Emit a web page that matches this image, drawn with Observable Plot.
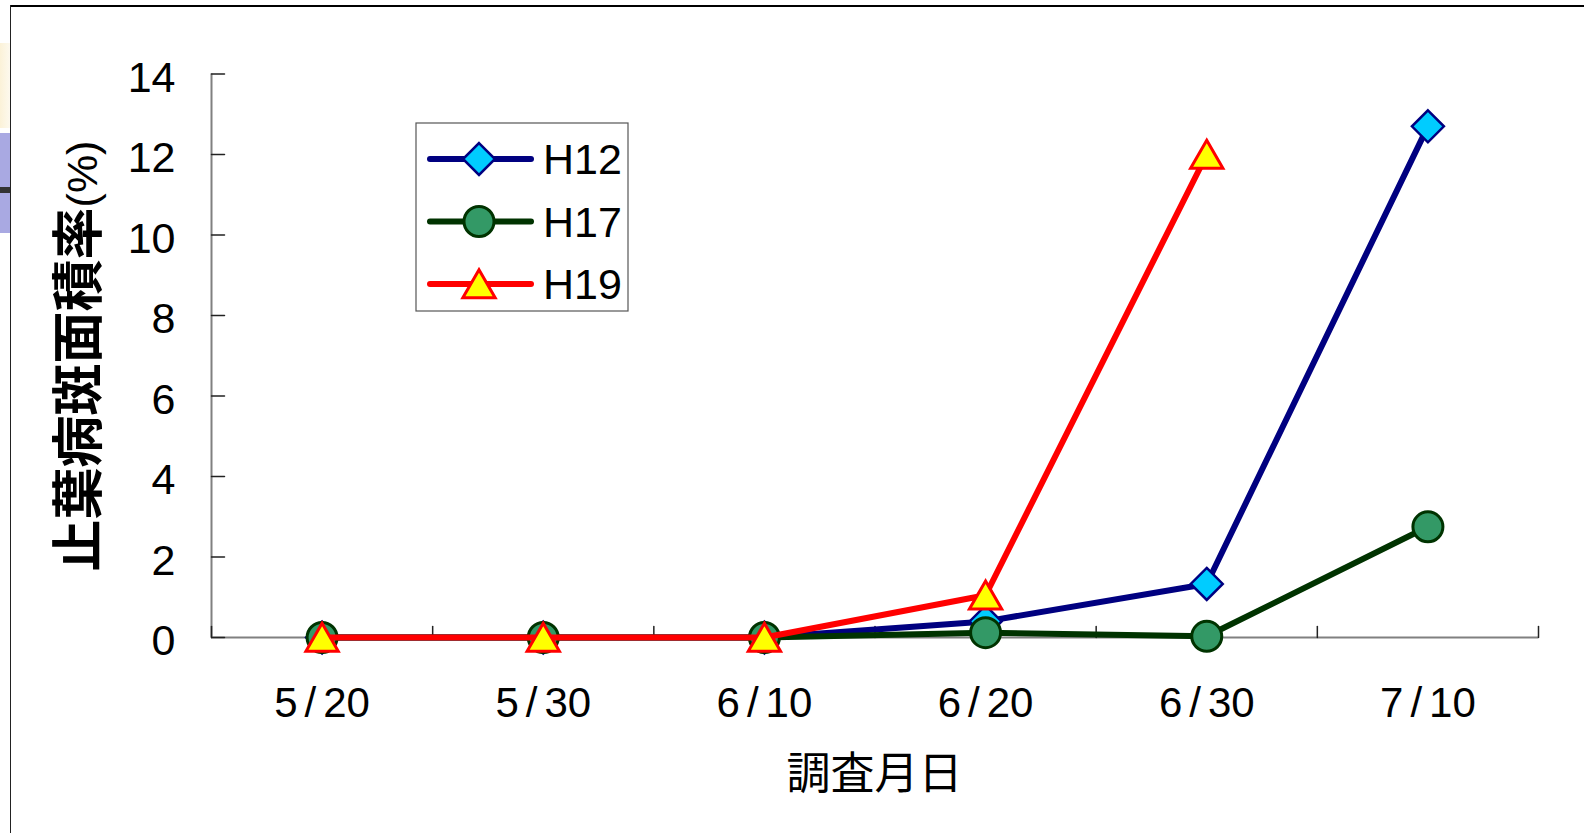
<!DOCTYPE html>
<html>
<head>
<meta charset="utf-8">
<script src="https://cdn.jsdelivr.net/npm/d3@7"></script>
<script src="https://cdn.jsdelivr.net/npm/@observablehq/plot@0.6"></script>
<style>
  html, body { margin: 0; padding: 0; background: #fff; }
  #page { position: relative; width: 1584px; height: 833px; overflow: hidden; background: #fff; }
  #page > svg { position: absolute; left: 0; top: 0; }
  .edge-top { position: absolute; left: 10px; top: 5px; width: 1574px; height: 2px; background: #000; z-index: 2; }
  .edge-left { position: absolute; left: 10px; top: 5px; width: 1px; height: 828px; background: #222; z-index: 2; }
  .strip-cream { position: absolute; left: 0; top: 43px; width: 10px; height: 85px; background: linear-gradient(to right, #fbf2d8, #fdf9ee); }
  .strip-blue { position: absolute; left: 0; top: 133px; width: 10px; height: 100px; background: #a9a9e2; }
  .strip-bar { position: absolute; left: 0; top: 187px; width: 10px; height: 6px; background: #333; }
</style>
</head>
<body>
<div id="page">
  <div class="strip-cream"></div>
  <div class="strip-blue"></div>
  <div class="strip-bar"></div>
  <div class="edge-top"></div>
  <div class="edge-left"></div>
</div>
<script>
// Survey dates (x categories) and leaf-blight lesion area rates (%) per year
const dates = ["5/20", "5/30", "6/10", "6/20", "6/30", "7/10"];
const seriesNames = ["H12", "H17", "H19"];
const valuesH12 = [0, 0, 0, 0.4, 1.33, 12.7];
const valuesH17 = [0, 0, 0, 0.12, 0.03, 2.75];
const valuesH19 = [0, 0, 0, 1.05, 12.0];
const yTicks = [0, 2, 4, 6, 8, 10, 12, 14];
const yTitle = "止葉病斑面積率";
const yUnit = "(%)";
const xTitle = "調査月日";

const seriesValues = { H12: valuesH12, H17: valuesH17, H19: valuesH19 };

// Line and marker styling for each series
const look = {
  H12: { line: "#000080", fill: "#00ccff", stroke: "#000080", symbol: "diamond2", d3symbol: d3.symbolDiamond2, r: 14.4, sw: 2.5, dy: 0 },
  H17: { line: "#003300", fill: "#339966", stroke: "#003300", symbol: "circle", d3symbol: d3.symbolCircle, r: 15, sw: 3, dy: 0 },
  H19: { line: "#ff0000", fill: "#ffff00", stroke: "#ff0000", symbol: "triangle", d3symbol: d3.symbolTriangle, r: 12, sw: 3, dy: 4.5 }
};
const lineWidth = 6;

const W = 1584, H = 833;
const margin = { left: 211, right: 46, top: 73.5, bottom: 196 };

// x is the category index; category boundaries sit halfway between indices
const indices = dates.map((d, i) => i);
const boundaries = d3.range(dates.length + 1).map(i => i - 0.5);

// date labels are set with a little air around the slash
const dateLabel = i => dates[i].replace("/", "\u2006/\u2006");

// plain straight tick for vector marks
const tickShape = { draw(context, l) { context.moveTo(0, 0); context.lineTo(0, -l); } };

const marks = [
  Plot.ruleY([0], { stroke: "#808080", strokeWidth: 2 }),
  Plot.ruleX([-0.5], { stroke: "#808080", strokeWidth: 2 }),
  // inward y ticks
  Plot.vector(yTicks, { y: d => d, frameAnchor: "left", length: 13, rotate: 90, anchor: "start", shape: tickShape, stroke: "#222", strokeWidth: 1.5 }),
  // upward x ticks on category boundaries
  Plot.vector(boundaries, { x: d => d, frameAnchor: "bottom", length: 11, anchor: "start", shape: tickShape, stroke: "#222", strokeWidth: 1.5 }),
  Plot.axisY({ ticks: yTicks, tickSize: 0, tickPadding: 36, fontSize: 43, dy: 4, tickFormat: d => String(d), label: null }),
  Plot.axisX({ ticks: indices, tickSize: 0, tickPadding: 50, fontSize: 42, tickFormat: dateLabel, label: null })
];

for (const name of seriesNames) {
  const s = look[name];
  const rows = seriesValues[name].map((v, i) => ({ i, v }));
  marks.push(
    Plot.line(rows, { x: "i", y: "v", stroke: s.line, strokeWidth: lineWidth, strokeLinejoin: "round", strokeLinecap: "round" }),
    Plot.dot(rows, { x: "i", y: "v", symbol: s.symbol, r: s.r, fill: s.fill, stroke: s.stroke, strokeWidth: s.sw, dy: s.dy })
  );
}

const chart = Plot.plot({
  width: W,
  height: H,
  marginLeft: margin.left,
  marginRight: margin.right,
  marginTop: margin.top,
  marginBottom: margin.bottom,
  x: { type: "linear", domain: [-0.5, dates.length - 0.5], axis: null },
  y: { domain: [0, 14], axis: null },
  style: { fontFamily: "'Liberation Sans', Arial, sans-serif", color: "#000", background: "transparent", overflow: "visible" },
  marks
});

document.getElementById("page").appendChild(chart);

const svg = d3.select(chart);
const plotLeft = margin.left, plotRight = W - margin.right;

// y-axis title, rotated
const yt = svg.append("text")
  .attr("transform", `translate(97,356) rotate(-90)`)
  .attr("text-anchor", "middle")
  .attr("fill", "#000");
yt.append("tspan")
  .attr("font-family", "'Noto Sans CJK JP', sans-serif")
  .attr("font-weight", "bold")
  .attr("font-size", 52)
  .text(yTitle);
yt.append("tspan")
  .attr("font-family", "'Liberation Sans', Arial, sans-serif")
  .attr("font-size", 43)
  .text(yUnit);

// x-axis title
svg.append("text")
  .attr("x", (plotLeft + plotRight) / 2)
  .attr("y", 789)
  .attr("text-anchor", "middle")
  .attr("font-family", "'Noto Sans CJK JP', sans-serif")
  .attr("font-size", 44)
  .attr("fill", "#000")
  .text(xTitle);

// legend box inside the plot area
const lg = svg.append("g").attr("transform", "translate(416,123)");
lg.append("rect").attr("width", 212).attr("height", 188)
  .attr("fill", "#fff").attr("stroke", "#555").attr("stroke-width", 1.2);
seriesNames.forEach((name, k) => {
  const s = look[name];
  const cy = 36 + k * 62.5;
  lg.append("line").attr("x1", 14).attr("x2", 115).attr("y1", cy).attr("y2", cy)
    .attr("stroke", s.line).attr("stroke-width", lineWidth).attr("stroke-linecap", "round");
  lg.append("path")
    .attr("d", d3.symbol(s.d3symbol, Math.PI * s.r * s.r)())
    .attr("transform", `translate(63,${cy + s.dy})`)
    .attr("fill", s.fill).attr("stroke", s.stroke).attr("stroke-width", s.sw);
  lg.append("text").attr("x", 127).attr("y", cy).attr("dy", "0.36em")
    .attr("text-anchor", "start")
    .attr("font-family", "'Liberation Sans', Arial, sans-serif")
    .attr("font-size", 43).attr("fill", "#000")
    .text(name);
});
</script>
</body>
</html>
